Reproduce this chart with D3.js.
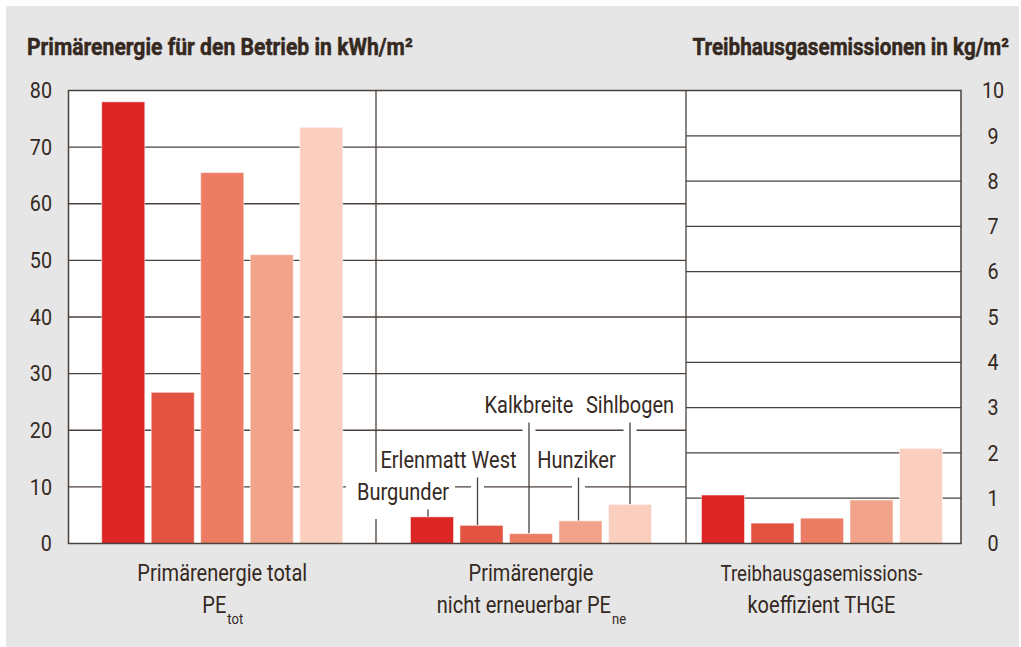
<!DOCTYPE html>
<html lang="de">
<head>
<meta charset="UTF-8">
<title>Primärenergie und Treibhausgasemissionen</title>
<script src="https://d3js.org/d3.v7.min.js"></script>
<style>
    html, body { margin: 0; padding: 0; background: #ffffff; }
    svg { display: block; }
    text { font-family: Roboto, "Liberation Sans", sans-serif; fill: #35291f; }
</style>
</head>
<body>
<svg id="chart" width="1021" height="647"></svg>
<script>
// data
const projects = ["Burgunder", "Erlenmatt West", "Kalkbreite", "Hunziker", "Sihlbogen"];
const peTotal = [78, 26.7, 65.5, 51, 73.5];       // kWh/m2
const peNonRenew = [4.7, 3.2, 1.75, 4.0, 6.9];    // kWh/m2
const thge = [1.07, 0.45, 0.56, 0.96, 2.1];       // kg/m2
const leftTicks = [0, 10, 20, 30, 40, 50, 60, 70, 80];
const rightTicks = [0, 1, 2, 3, 4, 5, 6, 7, 8, 9, 10];
const colors = ["#dd2526", "#e35342", "#ec7c64", "#f2a48a", "#facfc0"];

// layout
const plot = { left: 68.5, right: 961, top: 90.5, bottom: 543.5 };
const dividers = [376, 686];
const ink = "#4a413b";
const squeeze = 0.87;   // condensed look

const svg = d3.select("#chart");

svg.append("rect").attr("x", 6).attr("y", 6).attr("width", 1013).attr("height", 641).attr("fill", "#e6e6e6");
svg.append("rect").attr("x", plot.left).attr("y", plot.top)
    .attr("width", plot.right - plot.left).attr("height", plot.bottom - plot.top).attr("fill", "#ffffff");

const yLeft = d3.scaleLinear().domain([0, 80]).range([plot.bottom, plot.top]);
const yRight = d3.scaleLinear().domain([0, 10]).range([plot.bottom, plot.top]);

// squeeze text horizontally around its x anchor, remember the squeezed width
function condense(sel, k) {
    k = k || squeeze;
    sel.each(function () {
        const t = d3.select(this);
        const x = +t.attr("x") || 0;
        t.attr("data-w", this.getComputedTextLength() * k)
         .attr("data-k", k)
         .attr("transform", `translate(${x},0) scale(${k},1) translate(${-x},0)`);
    });
}
function moveX(t, x) {
    const k = +t.attr("data-k");
    t.attr("x", x).attr("transform", `translate(${x},0) scale(${k},1) translate(${-x},0)`);
}

// grid lines
const grid = svg.append("g").attr("stroke", ink).attr("stroke-width", 1.3);
grid.selectAll("line.gl").data(leftTicks.filter(d => d > 0 && d < 80)).join("line")
    .attr("x1", plot.left).attr("x2", dividers[1])
    .attr("y1", d => yLeft(d)).attr("y2", d => yLeft(d));
grid.selectAll("line.gr").data(rightTicks.filter(d => d > 0 && d < 10)).join("line")
    .attr("x1", dividers[1]).attr("x2", plot.right)
    .attr("y1", d => yRight(d)).attr("y2", d => yRight(d));
grid.selectAll("line.dv").data(dividers).join("line")
    .attr("x1", d => d).attr("x2", d => d)
    .attr("y1", plot.top).attr("y2", plot.bottom);

// panels
const panels = [
    { x0: plot.left, x1: dividers[0], values: peTotal, y: yLeft },
    { x0: dividers[0], x1: dividers[1], values: peNonRenew, y: yLeft },
    { x0: dividers[1], x1: plot.right, values: thge, y: yRight }
];
const groupWidth = 247;
panels.forEach((p, i) => {
    const c = (p.x0 + p.x1) / 2 - (i === 2 ? 1.5 : 0);
    p.x = d3.scaleBand().domain(projects).range([c - groupWidth / 2, c + groupWidth / 2]).paddingInner(0.13).paddingOuter(0.06);
});

// project labels in the middle panel
const mid = panels[1];
const labelRow = [500, 468, 413, 468, 413];
const labelShift = [-29, -33, -2, -4, 0];
const leaderShift = [-4, -4, -2, -2, 0];
const labels = svg.append("g");
const bgBox = labels.append("rect").attr("fill", "#ffffff");
const lblText = labels.append("g").selectAll("text").data(projects).join("text")
    .attr("x", (d, i) => mid.x(d) + mid.x.bandwidth() / 2 + labelShift[i])
    .attr("y", (d, i) => labelRow[i])
    .attr("text-anchor", "middle")
    .attr("font-size", 23)
    .text(d => d)
    .call(condense);
// white box behind the lowest label (hides grid and divider)
const first = lblText.filter((d, i) => i === 0);
const firstW = +first.attr("data-w");
const firstX = +first.attr("x");
bgBox.attr("x", firstX - firstW / 2 - 11).attr("y", labelRow[0] - 28)
    .attr("width", firstW + 17).attr("height", 47);

const leaders = labels.append("g");
projects.forEach((d, i) => {
    const lx = mid.x(d) + mid.x.bandwidth() / 2 + leaderShift[i];
    const top = labelRow[i] + 9.5;
    leaders.append("line").attr("x1", lx).attr("x2", lx).attr("y1", top).attr("y2", top + 12)
        .attr("stroke", "#ffffff").attr("stroke-width", 13);
    leaders.append("line").attr("x1", lx).attr("x2", lx).attr("y1", top).attr("y2", mid.y(peNonRenew[i]))
        .attr("stroke", ink).attr("stroke-width", 1.3);
});

// bars
const bars = svg.append("g");
panels.forEach(p => {
    bars.append("g").selectAll("rect").data(p.values).join("rect")
        .attr("x", (d, i) => p.x(projects[i]))
        .attr("y", d => p.y(d))
        .attr("width", p.x.bandwidth())
        .attr("height", d => p.y(0) - p.y(d))
        .attr("fill", (d, i) => colors[i])
        .attr("stroke", "#ffffff").attr("stroke-opacity", 0.5).attr("stroke-width", 1);
});

// frame
svg.append("rect").attr("x", plot.left).attr("y", plot.top)
    .attr("width", plot.right - plot.left).attr("height", plot.bottom - plot.top)
    .attr("fill", "none").attr("stroke", ink).attr("stroke-width", 1.5);

// tick labels
svg.append("g").selectAll("text").data(leftTicks).join("text")
    .attr("x", 52).attr("y", d => yLeft(d)).attr("dy", "0.36em")
    .attr("text-anchor", "end").attr("font-size", 21.5)
    .text(d => d).call(condense, 0.92);
svg.append("g").selectAll("text").data(rightTicks).join("text")
    .attr("x", 993).attr("y", d => yRight(d)).attr("dy", "0.36em")
    .attr("text-anchor", "middle").attr("font-size", 21.5)
    .text(d => d).call(condense, 0.92);

// titles
svg.append("text").attr("x", 27).attr("y", 55).attr("font-size", 23.5).attr("font-weight", "bold")
    .attr("stroke", "#35291f").attr("stroke-width", 0.5)
    .text("Primärenergie für den Betrieb in kWh/m²").call(condense, 0.9);
svg.append("text").attr("x", 1009).attr("y", 55).attr("font-size", 23.5).attr("font-weight", "bold")
    .attr("text-anchor", "end")
    .attr("stroke", "#35291f").attr("stroke-width", 0.5)
    .text("Treibhausgasemissionen in kg/m²").call(condense, 0.88);

// category labels
const categories = [
    { lines: ["Primärenergie total", "PE"], sub: "tot" },
    { lines: ["Primärenergie", "nicht erneuerbar PE"], sub: "ne" },
    { lines: ["Treibhausgasemissions-", "koeffizient THGE"], sub: null }
];
categories.forEach((c, i) => {
    const cx = (panels[i].x0 + panels[i].x1) / 2 - (i === 2 ? 2 : 0);
    const g = svg.append("g");
    g.append("text").attr("x", cx).attr("y", 581).attr("text-anchor", "middle")
        .attr("font-size", 23).text(c.lines[0]).call(condense, i === 2 ? 0.81 : squeeze);
    const t = g.append("text").attr("x", 0).attr("y", 613).attr("font-size", 23).text(c.lines[1]).call(condense);
    const w1 = +t.attr("data-w");
    if (c.sub) {
        const s = g.append("text").attr("x", 0).attr("y", 624).attr("font-size", 15).text(c.sub).call(condense);
        const w2 = +s.attr("data-w");
        const x0 = cx - (w1 + w2) / 2;
        moveX(t, x0);
        moveX(s, x0 + w1 + 1);
    } else {
        moveX(t, cx - w1 / 2);
    }
});
</script>
</body>
</html>
